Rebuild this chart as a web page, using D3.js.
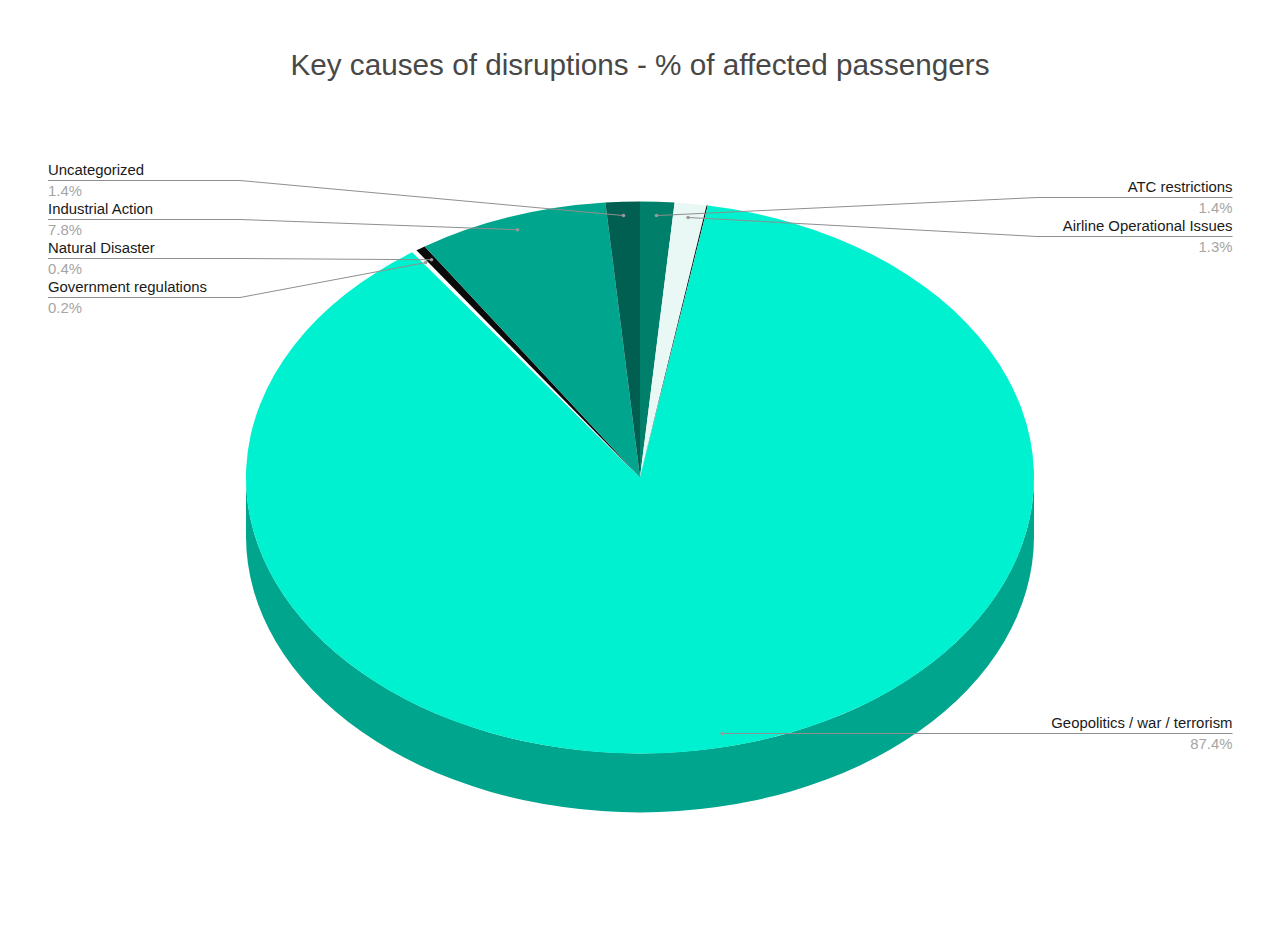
<!DOCTYPE html>
<html>
<head>
<meta charset="utf-8">
<script src="https://cdn.jsdelivr.net/npm/d3@7"></script>
<style>
  html, body { margin: 0; padding: 0; background: #fff; }
  svg { display: block; }
  text { font-family: "Liberation Sans", Arial, sans-serif; }
</style>
</head>
<body>
<div id="chart"></div>
<script>
// slices clockwise from 12 o'clock
var categories = ["ATC restrictions", "Airline Operational Issues", "", "Geopolitics / war / terrorism",
  "Government regulations", "Natural Disaster", "Industrial Action", "Uncategorized"];
var values = [1.4, 1.3, 0.05, 87.4, 0.2, 0.4, 7.8, 1.4];
var colors = ["#007f6b", "#e9f7f5", "#0a0a0a", "#00f1cf", "#ffffff", "#0a0a0a", "#00a58d", "#005f50"];

var svgWidth = 1280;
var svgHeight = 949;
var titleText = "Key causes of disruptions - % of affected passengers";

// pie is drawn as a circle and squashed to look tilted
var cx = 640;
var cy = 477.5;
var rx = 394;
var ry = 276;
var depth = 59;
var sideColor = "#00a58d";

var svg = d3.select("#chart")
  .append("svg")
  .attr("width", svgWidth)
  .attr("height", svgHeight);

svg.append("text")
  .attr("x", 640)
  .attr("y", 75)
  .attr("text-anchor", "middle")
  .attr("font-size", 29.7)
  .attr("fill", "#484848")
  .text(titleText);

var slices = d3.pie().sort(null).value(d => d)(values);
var arc = d3.arc().innerRadius(0).outerRadius(rx);
var dotArc = d3.arc().innerRadius(rx * 0.95).outerRadius(rx * 0.95);

// side wall
svg.append("path")
  .attr("d", `M${cx - rx},${cy} A${rx},${ry} 0 0 0 ${cx + rx},${cy} L${cx + rx},${cy + depth} A${rx},${ry} 0 0 1 ${cx - rx},${cy + depth} Z`)
  .attr("fill", sideColor);

var pieGroup = svg.append("g")
  .attr("transform", `translate(${cx},${cy}) scale(1,${ry / rx})`);

pieGroup.selectAll("path")
  .data(slices)
  .enter()
  .append("path")
  .attr("d", arc)
  .attr("fill", (d, i) => colors[i]);

// label rows: slice index, y of the underline
var leftRows = [[7, 180.5], [6, 219.5], [5, 258.5], [4, 297.5]];
var rightRows = [[0, 197.5], [1, 236.5], [3, 733.5]];

function anchorPoint(i) {
  var c = dotArc.centroid(slices[i]);
  return [cx + c[0], cy + c[1] * ry / rx];
}

function drawLabel(row, side) {
  var i = row[0];
  var y = row[1];
  var edge = side === "left" ? 48 : 1232.5;
  var elbow = side === "left" ? 240 : 1037;
  var p = anchorPoint(i);
  var points = [[edge, y], [elbow, y], p];
  if (i === 3) points = [[edge, y], [p[0], y]];

  svg.append("path")
    .attr("d", d3.line()(points))
    .attr("fill", "none")
    .attr("stroke", "#8f8f8f")
    .attr("stroke-width", 1);

  svg.append("circle")
    .attr("cx", points[points.length - 1][0])
    .attr("cy", points[points.length - 1][1])
    .attr("r", 1.8)
    .attr("fill", "#999999");

  var anchor = side === "left" ? "start" : "end";
  svg.append("text")
    .attr("x", edge)
    .attr("y", y - 6)
    .attr("text-anchor", anchor)
    .attr("font-size", 14.9)
    .attr("fill", "#1a1a1a")
    .text(categories[i]);

  svg.append("text")
    .attr("x", edge)
    .attr("y", y + 15)
    .attr("text-anchor", anchor)
    .attr("font-size", 14.9)
    .attr("fill", "#a5a5a5")
    .text(values[i].toFixed(1) + "%");
}

leftRows.forEach(r => drawLabel(r, "left"));
rightRows.forEach(r => drawLabel(r, "right"));
</script>
</body>
</html>
